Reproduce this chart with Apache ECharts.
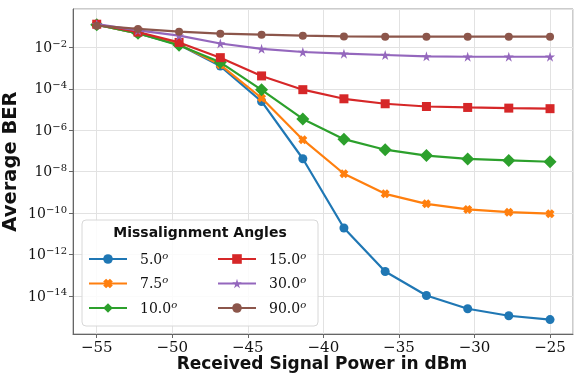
<!DOCTYPE html>
<html>
<head>
<meta charset="utf-8">
<title>Average BER vs received power</title>
<script src="https://cdn.jsdelivr.net/npm/echarts@6/dist/echarts.min.js"></script>
<style>
html,body{margin:0;padding:0;background:#fff;}
#chart_ber{width:579px;height:376px;}
</style>
</head>
<body>
<div id="chart_ber"></div>
<script>
// received power (dBm)
var powerDbm = [-55, -52.27, -49.55, -46.82, -44.09, -41.36, -38.64, -35.91, -33.18, -30.45, -27.73, -25];
var angleNames = ['5.0', '7.5', '10.0', '15.0', '30.0', '90.0'];
// average BER per misalignment angle
var ber5  = [1.26e-1, 4.7e-2, 1.35e-2, 1.26e-3, 2.45e-5, 4.2e-8, 1.9e-11, 1.5e-13, 1.05e-14, 2.4e-15, 1.1e-15, 7.2e-16];
var ber75 = [1.26e-1, 4.8e-2, 1.38e-2, 1.45e-3, 3.6e-5, 3.5e-7, 7.9e-9, 8.5e-10, 2.8e-10, 1.5e-10, 1.1e-10, 9.3e-11];
var ber10 = [1.26e-1, 4.8e-2, 1.26e-2, 1.9e-3, 8.9e-5, 3.5e-6, 3.7e-7, 1.15e-7, 6.0e-8, 4.1e-8, 3.5e-8, 3.0e-8];
var ber15 = [1.32e-1, 5.5e-2, 1.74e-2, 3.2e-3, 4.2e-4, 9.1e-5, 3.3e-5, 1.9e-5, 1.4e-5, 1.26e-5, 1.17e-5, 1.1e-5];
var ber30 = [1.32e-1, 6.6e-2, 3.7e-2, 1.55e-2, 8.5e-3, 6.0e-3, 5.0e-3, 4.3e-3, 3.7e-3, 3.55e-3, 3.55e-3, 3.55e-3];
var ber90 = [1.12e-1, 7.8e-2, 5.75e-2, 4.6e-2, 4.1e-2, 3.7e-2, 3.4e-2, 3.3e-2, 3.3e-2, 3.3e-2, 3.3e-2, 3.3e-2];
// tick labels
var xTickLabels = [-55, -50, -45, -40, -35, -30, -25];
var yTickExps = [-14, -12, -10, -8, -6, -4, -2];

var colors = ['#1f77b4', '#ff7f0e', '#2ca02c', '#d62728', '#9467bd', '#8c564b'];
var xMark = 'path://M0,3L3,0L5,2L7,0L10,3L8,5L10,7L7,10L5,8L3,10L0,7L2,5Z';
var star = 'path://M10,0L12.23,6.93L19.51,6.91L13.61,11.17L15.88,18.09L10,13.8L4.12,18.09L6.39,11.17L0.49,6.91L7.77,6.93Z';
var markers = ['circle', xMark, 'diamond', 'rect', star, 'circle'];
var markerSizes = [9, 9, 13, 9, 10, 8];

var serif = '"DejaVu Serif", serif';
var sans = '"DejaVu Sans", sans-serif';

function toSeries(vals, i){
	var pts = [];
	for (var k = 0; k < powerDbm.length; k++) {
		pts.push([powerDbm[k], Math.log10(vals[k])]);
	}
	return {
		name: angleNames[i],
		type: 'line',
		data: pts,
		symbol: markers[i],
		symbolSize: markerSizes[i],
		showAllSymbol: true,
		lineStyle: {color: colors[i], width: 2.2},
		itemStyle: {color: colors[i], borderWidth: 0},
		animation: false,
		z: 2 + i
	};
}

function legendBlock(names, left){
	return {
		data: names,
		orient: 'vertical',
		left: left,
		top: 251,
		padding: 0,
		itemWidth: 38,
		itemHeight: 12,
		itemGap: 8.5,
		z: 10,
		formatter: function(name){ return '{b|' + name + '}{s|o}'; },
		textStyle: {
			padding: [0, 0, 0, 8],
			rich: {
				b: {fontFamily: serif, fontSize: 14, color: '#111', lineHeight: 16, verticalAlign: 'bottom'},
				s: {fontFamily: serif, fontSize: 10, fontStyle: 'italic', color: '#111', lineHeight: 10, verticalAlign: 'top'}
			}
		}
	};
}

function renderBer(){
	var myChart = echarts.init(document.getElementById('chart_ber'), null, {renderer: 'canvas'});
	var allBer = [ber5, ber75, ber10, ber15, ber30, ber90];
	var series = [];
	for (var i = 0; i < allBer.length; i++) series.push(toSeries(allBer[i], i));

	var option = {
		backgroundColor: '#fff',
		animation: false,
		grid: {left: 73, right: 6, top: 9, bottom: 42, show: true, borderColor: '#999', borderWidth: 1, containLabel: false},
		xAxis: {
			type: 'value',
			min: -56.57,
			max: -23.48,
			splitNumber: 6,
			axisLine: {show: true, onZero: false, lineStyle: {color: '#666', width: 1}},
			axisTick: {show: true, length: 4, lineStyle: {color: '#666'}},
			splitLine: {show: true, lineStyle: {color: '#e2e2e2', width: 1}},
			axisLabel: {
				margin: 7,
				fontFamily: serif, fontSize: 15, color: '#111',
				showMinLabel: false, showMaxLabel: false,
				formatter: function(v){
					var r = Math.round(v);
					if (Math.abs(v - r) > 1e-6 || xTickLabels.indexOf(r) < 0) return '';
					return (r < 0 ? '\u2212' : '') + Math.abs(r);
				}
			}
		},
		yAxis: {
			type: 'value',
			min: -15.84,
			max: -0.145,
			splitNumber: 8,
			axisLine: {show: true, onZero: false, lineStyle: {color: '#666', width: 1}},
			axisTick: {show: true, length: 4, lineStyle: {color: '#666'}},
			splitLine: {show: true, lineStyle: {color: '#e2e2e2', width: 1}},
			axisLabel: {
				margin: 6,
				showMinLabel: false, showMaxLabel: false,
				formatter: function(v){
					var r = Math.round(v);
					if (Math.abs(v - r) > 1e-6 || yTickExps.indexOf(r) < 0) return '';
					return '{b|10}{s|\u2212' + Math.abs(r) + '}';
				},
				rich: {
					b: {fontFamily: serif, fontSize: 14, color: '#111', lineHeight: 16, verticalAlign: 'bottom'},
					s: {fontFamily: serif, fontSize: 10, color: '#111', lineHeight: 10, verticalAlign: 'top'}
				}
			}
		},
		legend: [
			legendBlock(angleNames.slice(0, 3), 88),
			legendBlock(angleNames.slice(3, 6), 217)
		],
		graphic: [
			{
				type: 'rect', z: 8,
				shape: {x: 82, y: 220, width: 236, height: 106, r: 4},
				style: {fill: 'rgba(255,255,255,0.85)', stroke: '#d8d8d8', lineWidth: 1}
			},
			{
				type: 'text', z: 9,
				style: {x: 200, y: 233.5, text: 'Missalignment Angles', fontFamily: sans, fontWeight: 'bold', fontSize: 14, fill: '#111', align: 'center', verticalAlign: 'middle'}
			},
			{
				type: 'text', z: 9,
				style: {x: 322, y: 365, text: 'Received Signal Power in dBm', fontFamily: sans, fontWeight: 'bold', fontSize: 17, fill: '#111', align: 'center', verticalAlign: 'middle'}
			},
			{
				type: 'text', z: 9,
				x: 11, y: 161.5, rotation: Math.PI / 2,
				style: {x: 0, y: 0, text: 'Average BER', fontFamily: sans, fontWeight: 'bold', fontSize: 19.5, fill: '#111', align: 'center', verticalAlign: 'middle'}
			}
		],
		series: series
	};
	myChart.setOption(option);
}

renderBer();
</script>
</body>
</html>
